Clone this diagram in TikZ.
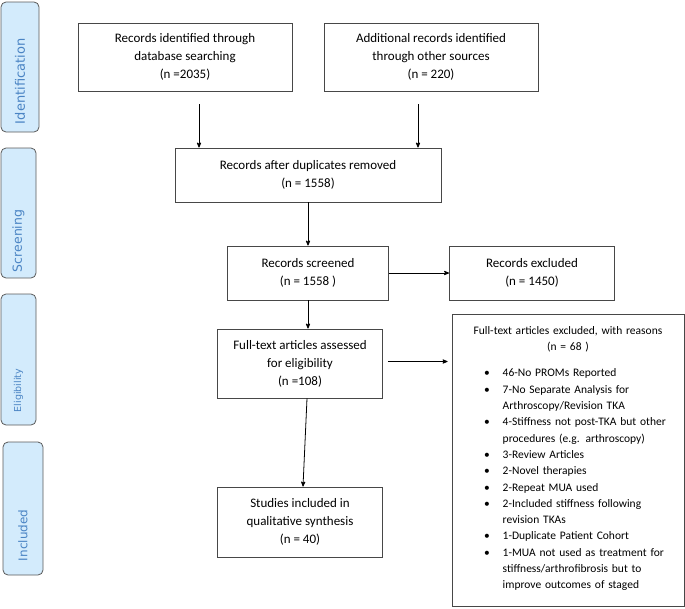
\documentclass[tikz,border=0pt]{standalone}
\usepackage{fontspec}
\setmainfont{Carlito}
\newfontfamily\phasefont{DejaVu Sans}
\usetikzlibrary{arrows, positioning}
\setlength{\parindent}{0pt}

\definecolor{phaseFill}{HTML}{D3EBFC}
\definecolor{phaseText}{HTML}{4A84C4}
\definecolor{phaseLine}{HTML}{5A5A5A}
\definecolor{boxLine}{HTML}{474747}

\begin{document}
\begin{tikzpicture}[x=1pt, y=1pt, >=stealth', node distance=246pt,
    box/.style={draw=boxLine, line width=0.9pt, align=center, inner sep=0pt, font=\fontsize{13}{18}\selectfont},
    phase/.style={draw=phaseLine, line width=0.8pt, fill=phaseFill, rounded corners=5pt, rotate=90, align=left, text=phaseText, inner ysep=0pt},
    flow/.style={->, line width=0.8pt}]
    \useasboundingbox (0,0) rectangle (685,-608);

    \node[phase, font=\phasefont\fontsize{13}{15}\selectfont, minimum height=38pt, inner xsep=8pt, text width=114pt] (Identification) at (20,-67) {Identification};
    \node[phase, font=\phasefont\fontsize{12.5}{15}\selectfont, minimum height=35pt, inner xsep=6pt, text width=118pt] (Screening) at (18.5,-213) {Screening};
    \node[phase, font=\phasefont\fontsize{9.5}{12}\selectfont, minimum height=35pt, inner xsep=13pt, text width=105pt] (Eligibility) at (18.5,-359.5) {Eligibility};
    \node[phase, font=\phasefont\fontsize{12}{15}\selectfont, minimum height=40pt, inner xsep=14pt, text width=105pt] (IncludedPhase) at (23,-508.5) {Included};

    \node[box, minimum width=214pt, minimum height=68pt] (RecordsDb) at (185,-57) {Records identified through\\database searching\\(n =2035)};
    \node[box, minimum width=214pt, minimum height=68pt] (RecordsOther) [right of=RecordsDb] {Additional records identified\\through other sources\\(n = 220)};
    \node[box, minimum width=266pt, minimum height=54pt] (NoDuplicates) at (308,-175) {Records after duplicates removed\\(n = 1558)};
    \node[box, minimum width=161pt, minimum height=54pt, node distance=98pt] (Screened) [below of=NoDuplicates] {Records screened\\(n = 1558 )};
    \node[box, minimum width=165pt, minimum height=54pt, node distance=224pt] (Excluded) [right of=Screened] {Records excluded\\(n = 1450)};
    \node[box, minimum width=165pt, minimum height=69pt, node distance=90.5pt, xshift=-8pt] (FullText) [below of=Screened] {Full-text articles assessed\\for eligibility\\(n =108)};
    \node[box, minimum width=165pt, minimum height=70pt, node distance=158.5pt] (Included) [below of=FullText] {Studies included in\\qualitative synthesis\\(n = 40)};
    \node[box, font=\fontsize{11.5}{16.3}\selectfont, text width=216pt, inner xsep=8pt, minimum height=292pt, align=left] (FullTextExcl) at (568,-460) {%
        {\centering Full-text articles excluded, with reasons\\(n = 68 )\par}
        \vspace{10pt}
        \hspace*{24pt}\begin{tabular}[t]{@{}l@{\hspace{13pt}}l@{}}
        \textbullet & 46-No PROMs Reported\\
        \textbullet & 7-No Separate Analysis for\\
                    & Arthroscopy/Revision TKA\\
        \textbullet & 4-Stiffness not post-TKA but other\\
                    & procedures (e.g. arthroscopy)\\
        \textbullet & 3-Review Articles\\
        \textbullet & 2-Novel therapies\\
        \textbullet & 2-Repeat MUA used\\
        \textbullet & 2-Included stiffness following\\
                    & revision TKAs\\
        \textbullet & 1-Duplicate Patient Cohort\\
        \textbullet & 1-MUA not used as treatment for\\
                    & stiffness/arthrofibrosis but to\\
                    & improve outcomes of staged
        \end{tabular}};

    \draw[flow, shorten <=13pt] ([xshift=14pt]RecordsDb.south) -- ([xshift=14pt]RecordsDb.south |- NoDuplicates.north);
    \draw[flow, shorten <=13pt] ([xshift=-13pt]RecordsOther.south) -- ([xshift=-13pt]RecordsOther.south |- NoDuplicates.north);
    \draw[flow] (NoDuplicates) -- (Screened);
    \draw[flow] (Screened) -- (Excluded);
    \draw[flow] (Screened.south) -- (Screened.south |- FullText.north);
    \draw[flow, shorten <=5pt, shorten >=4pt] ([yshift=2pt]FullText.east) -- ([yshift=2pt]FullText.east -| FullTextExcl.west);
    \draw[flow] ([xshift=7pt]FullText.south) -- ([xshift=3pt]Included.north);
\end{tikzpicture}
\end{document}
